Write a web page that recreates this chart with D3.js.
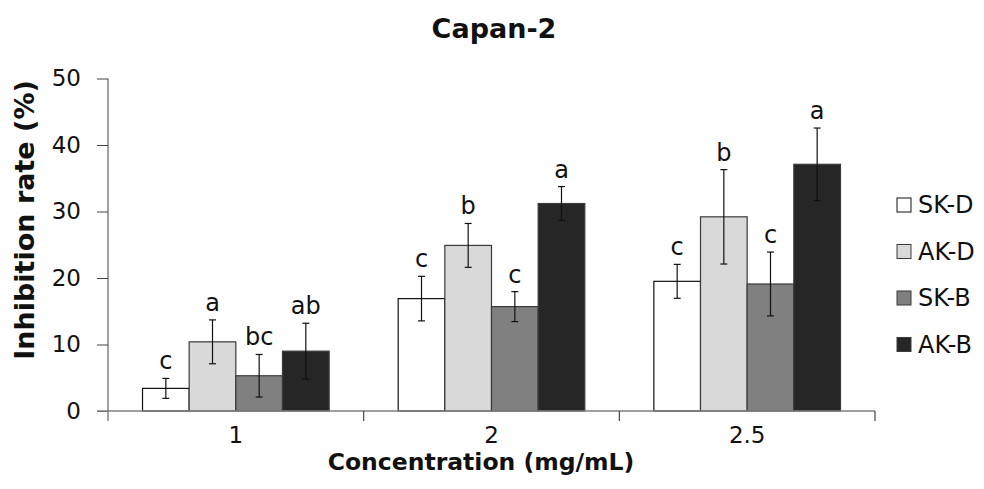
<!DOCTYPE html>
<html>
<head>
<meta charset="utf-8">
<script src="https://cdn.jsdelivr.net/npm/d3@7"></script>
<style>
  body { margin: 0; background: #fff; }
  svg text { font-family: "DejaVu Sans", "Noto Sans", sans-serif; fill: #111; }
</style>
</head>
<body>
<svg id="chart" width="984" height="489"></svg>
<script>
// chart data
var concentrations = ["1", "2", "2.5"];
var seriesNames = ["SK-D", "AK-D", "SK-B", "AK-B"];
var seriesColors = ["#ffffff", "#d9d9d9", "#808080", "#262626"];
var meanValues = [
  [3.4, 10.4, 5.3, 9.0],
  [16.9, 24.9, 15.7, 31.2],
  [19.5, 29.2, 19.1, 37.1]
];
var errValues = [
  [1.5, 3.3, 3.2, 4.2],
  [3.35, 3.3, 2.25, 2.55],
  [2.55, 7.1, 4.8, 5.45]
];
var letters = [
  ["c", "a", "bc", "ab"],
  ["c", "b", "c", "a"],
  ["c", "b", "c", "a"]
];
var yTicks = [0, 10, 20, 30, 40, 50];

var svg = d3.select("#chart");
var margin = {left: 108, right: 875, top: 78.5, bottom: 411};

var x0 = d3.scaleBand()
  .domain(concentrations)
  .range([margin.left, margin.right])
  .paddingInner(0)
  .paddingOuter(0);

var x1 = d3.scaleBand()
  .domain(seriesNames)
  .range([0, x0.bandwidth() * 0.73])
  .padding(0);

var y = d3.scaleLinear()
  .domain([0, 50])
  .range([margin.bottom, margin.top]);

var groupOffset = (x0.bandwidth() - x1.range()[1]) / 2;

// bars
var rows = [];
concentrations.forEach(function(c, i) {
  seriesNames.forEach(function(s, j) {
    rows.push({c: c, s: s, j: j, v: meanValues[i][j], e: errValues[i][j], l: letters[i][j]});
  });
});

var gBars = svg.append("g");
gBars.selectAll("rect.bar")
  .data(rows)
  .enter()
  .append("rect")
  .classed("bar", true)
  .attr("x", function(d) { return x0(d.c) + groupOffset + x1(d.s); })
  .attr("y", function(d) { return y(d.v); })
  .attr("width", x1.bandwidth())
  .attr("height", function(d) { return y(0) - y(d.v); })
  .attr("fill", function(d) { return seriesColors[d.j]; })
  .attr("stroke", function(d) { return d.j == 0 ? "#111" : "#3a3a3a"; })
  .attr("stroke-width", 1.2);

// error bars
var cx = function(d) { return x0(d.c) + groupOffset + x1(d.s) + x1.bandwidth() / 2; };
var gErr = svg.append("g").attr("stroke", "#111").attr("stroke-width", 1.2);
gErr.selectAll("line.err")
  .data(rows)
  .enter()
  .append("line")
  .attr("x1", cx).attr("x2", cx)
  .attr("y1", function(d) { return y(d.v + d.e); })
  .attr("y2", function(d) { return y(d.v - d.e); });
[1, -1].forEach(function(sign) {
  gErr.selectAll("line.cap" + sign)
    .data(rows)
    .enter()
    .append("line")
    .attr("x1", function(d) { return cx(d) - 3.5; })
    .attr("x2", function(d) { return cx(d) + 3.5; })
    .attr("y1", function(d) { return y(d.v + sign * d.e); })
    .attr("y2", function(d) { return y(d.v + sign * d.e); });
});

// significance letters
svg.append("g").selectAll("text")
  .data(rows)
  .enter()
  .append("text")
  .attr("x", cx)
  .attr("y", function(d) { return y(d.v + d.e) - 9; })
  .attr("text-anchor", "middle")
  .attr("font-size", 24)
  .text(function(d) { return d.l; });

// y axis
var yAxis = svg.append("g")
  .attr("transform", "translate(" + margin.left + ",0)")
  .call(d3.axisLeft(y).tickValues(yTicks).tickSize(11).tickPadding(16));
yAxis.select(".domain").attr("stroke", "#444").attr("d", "M0," + y(50) + "V" + (margin.bottom + 10));
yAxis.selectAll(".tick line").attr("stroke", "#444");
yAxis.selectAll(".tick text").attr("font-size", 23).attr("fill", "#222")
  .attr("font-family", "\"DejaVu Sans\", sans-serif");

// x axis
var xAxis = svg.append("g")
  .attr("transform", "translate(0," + margin.bottom + ")")
  .call(d3.axisBottom(x0).tickSize(0).tickPadding(16));
xAxis.select(".domain").attr("stroke", "#808080").attr("stroke-width", 1.6)
  .attr("d", "M97,0H" + margin.right);
xAxis.selectAll(".tick text").attr("font-size", 23).attr("fill", "#222")
  .attr("font-family", "\"DejaVu Sans\", sans-serif");
// separators between categories
var seps = concentrations.map(function(c) { return x0(c) + x0.bandwidth(); });
xAxis.selectAll("line.sep")
  .data(seps)
  .enter()
  .append("line")
  .attr("x1", function(d) { return d; })
  .attr("x2", function(d) { return d; })
  .attr("y1", 0).attr("y2", 10)
  .attr("stroke", "#444").attr("stroke-width", 1.2);

// titles
svg.append("text")
  .attr("x", 494).attr("y", 38)
  .attr("text-anchor", "middle")
  .attr("font-size", 27).attr("font-weight", "bold")
  .text("Capan-2");

svg.append("text")
  .attr("x", 481).attr("y", 470)
  .attr("text-anchor", "middle")
  .attr("font-size", 23.5).attr("font-weight", "bold")
  .text("Concentration (mg/mL)");

svg.append("text")
  .attr("transform", "translate(34,220) rotate(-90)")
  .attr("text-anchor", "middle")
  .attr("font-size", 27).attr("font-weight", "bold")
  .text("Inhibition rate (%)");

// legend
var legend = svg.append("g").selectAll("g")
  .data(seriesNames)
  .enter()
  .append("g")
  .attr("transform", function(d, i) { return "translate(897," + (198 + i * 46.5) + ")"; });
legend.append("rect")
  .attr("width", 14).attr("height", 14)
  .attr("fill", function(d, i) { return seriesColors[i]; })
  .attr("stroke", function(d, i) { return i == 0 ? "#111" : "#3a3a3a"; })
  .attr("stroke-width", 1);
legend.append("text")
  .attr("x", 21).attr("y", 15)
  .attr("font-size", 24)
  .text(function(d) { return d; });
</script>
</body>
</html>
